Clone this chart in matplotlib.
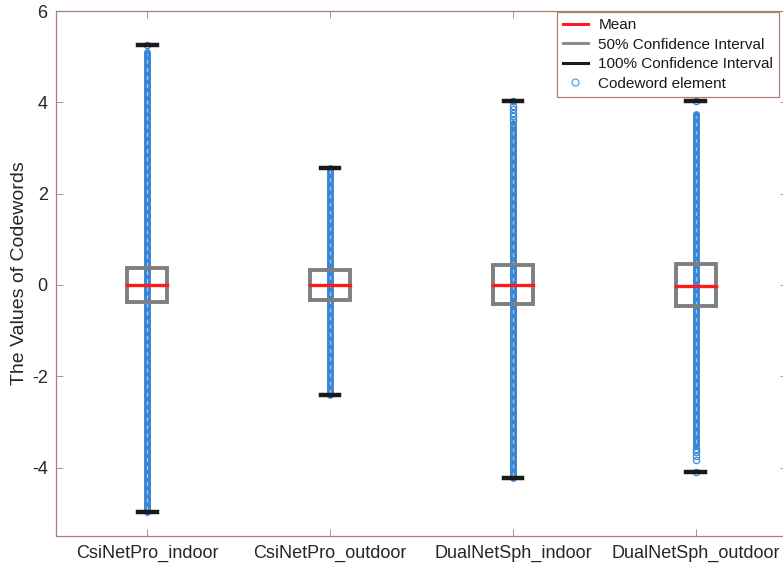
import numpy as np
import matplotlib.pyplot as plt
from matplotlib.lines import Line2D

plt.rcParams['font.family'] = ['Liberation Sans', 'DejaVu Sans']

# codeword statistics for each model / scenario
names = ['CsiNetPro_indoor', 'CsiNetPro_outdoor', 'DualNetSph_indoor', 'DualNetSph_outdoor']
means = [0.0, 0.0, 0.0, -0.02]
q_lo = [-0.37, -0.33, -0.42, -0.46]     # 50% interval
q_hi = [0.38, 0.33, 0.44, 0.46]
w_lo = [-4.98, -2.41, -4.23, -4.09]     # 100% interval (min / max)
w_hi = [5.25, 2.57, 4.03, 4.03]
# span where the codeword elements pile up into a solid column
dense_lo = [-4.98, -2.41, -4.23, -3.52]
dense_hi = [5.10, 2.57, 3.55, 3.75]
# the few loose elements outside that span
sparse = [
    [5.25],
    [],
    [4.03, 3.93, 3.85, 3.77, 3.69, 3.61],
    [4.03, -3.60, -3.67, -3.75, -3.83, -4.09],
]

pos = np.arange(1, len(names) + 1)
spine_col = '#a8826e'
pt_col = '#3a86d6'

fig = plt.figure(figsize=(7.83, 5.65), dpi=100)
ax = fig.add_axes([56/783, 29/565, 731/783, 525/565])

for i, x in enumerate(pos):
    # codeword elements
    ax.plot([x, x], [dense_lo[i], dense_hi[i]], color=pt_col, lw=5.0,
            solid_capstyle='round', zorder=2)
    ax.plot([x, x], [dense_lo[i] + 0.05, dense_hi[i] - 0.05], color='#a8c8ee',
            lw=0.9, dashes=(3, 3.5), zorder=2.1)
    if sparse[i]:
        ax.plot([x] * len(sparse[i]), sparse[i], 'o', mfc='none', mec=pt_col,
                ms=4.5, mew=0.9, zorder=2.2)
    # 50% box
    ax.plot([x - 0.11, x + 0.11, x + 0.11, x - 0.11, x - 0.11],
            [q_lo[i], q_lo[i], q_hi[i], q_hi[i], q_lo[i]],
            color='#7f7f7f', lw=2.8, zorder=3, solid_joinstyle='miter')
    # mean
    ax.plot([x - 0.11, x + 0.11], [means[i], means[i]], color='#ff1a1a', lw=2.4, zorder=4)
    # min / max caps
    ax.plot([x - 0.05, x + 0.05], [w_lo[i], w_lo[i]], color='#1a1a1a', lw=3.2, zorder=4)
    ax.plot([x - 0.05, x + 0.05], [w_hi[i], w_hi[i]], color='#1a1a1a', lw=3.2, zorder=4)

ax.set_xlim(0.5, 4.5)
ax.set_ylim(-5.5, 6)
ax.set_xticks(pos)
ax.set_xticklabels(names)
ax.set_yticks([-4, -2, 0, 2, 4, 6])
ax.set_yticklabels(['-4', '-2', '0', '2', '4', '6'])
ax.tick_params(direction='in', length=5, width=0.6, color='#8a8a8a',
               labelsize=13, labelcolor='#262626', top=True, right=True, pad=6)
for s in ax.spines.values():
    s.set_color(spine_col)
    s.set_linewidth(0.9)
ax.set_ylabel('The Values of Codewords', fontsize=14, color='#262626', labelpad=3)

handles = [
    Line2D([], [], color='#ff1a1a', lw=2.2),
    Line2D([], [], color='#8c8c8c', lw=2.2),
    Line2D([], [], color='#1a1a1a', lw=2.2),
    Line2D([], [], ls='none', marker='o', mfc='none', mec='#4aa6ea', ms=5, mew=0.9),
]
labels = ['Mean', '50% Confidence Interval', '100% Confidence Interval', 'Codeword element']
leg = fig.legend(handles, labels, loc='upper left', bbox_to_anchor=(557/783, 1 - 12/565),
                 bbox_transform=fig.transFigure, borderaxespad=0, fontsize=11,
                 frameon=True, fancybox=False, framealpha=1, edgecolor=spine_col,
                 labelspacing=0.36, handlelength=1.6, handletextpad=0.7, borderpad=0.4)
leg.get_frame().set_linewidth(0.9)
for t in leg.get_texts():
    t.set_color('#1a1a1a')

fig.savefig('out.png', dpi=100)
